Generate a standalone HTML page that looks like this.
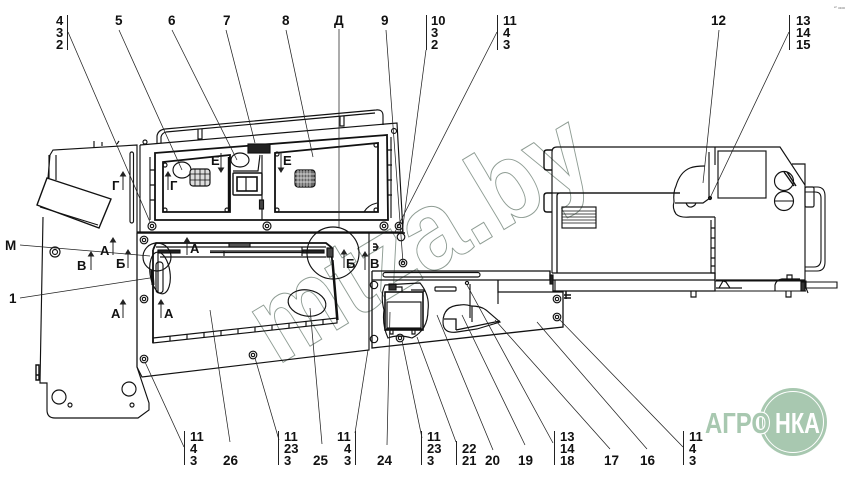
<!DOCTYPE html>
<html><head><meta charset="utf-8"><style>
html,body{margin:0;padding:0;background:#fff;width:848px;height:477px;overflow:hidden}
svg{display:block}
text{font-family:"Liberation Sans","DejaVu Sans",sans-serif;font-weight:bold;font-size:13px;fill:#111}
.n{font-size:13.5px}
.s{stroke:#111;fill:none;stroke-width:1.15}
.t{stroke:#111;fill:none;stroke-width:1.8}
.l{stroke:#222;fill:none;stroke-width:.75}
.w{font-weight:bold;fill:none;stroke:#8f9d94;stroke-width:1;font-size:112px}
</style></head><body>
<svg width="848" height="477" viewBox="0 0 848 477" xmlns="http://www.w3.org/2000/svg">
<rect width="848" height="477" fill="#fff"/>

<!-- watermark -->
<text class="w" x="277" y="366" textLength="376" lengthAdjust="spacingAndGlyphs" transform="rotate(-31 277 366)">mtza.by</text>

<!-- left machine part -->
<g class="s">
<path d="M48 178L50 155L53 150L137 145V233M43 217L40 383H47V410Q47 418 55 418H138L149 410V403L137 367V233"/>
<path d="M47 178L111 199L99 228L37 205Z" stroke-width="1.4"/>
<path d="M40 207L98 225"/>
<path d="M49 155V178M56 155V180"/>
<rect x="130" y="152" width="3.5" height="71" rx="1.7"/>
<circle cx="55" cy="252" r="5"/><circle cx="55" cy="252" r="2.5"/>
<circle cx="59" cy="397" r="7"/><circle cx="70" cy="405" r="2"/><circle cx="129" cy="389" r="7"/><circle cx="132" cy="405" r="2"/>
<path d="M94 148V141M102 146V142M117 144L119 141"/>
<path d="M36 365h3v10h-3zM36 375h3v5h-3z" stroke-width="1.4"/>
</g>

<!-- centre upper panel -->
<g class="s">
<path d="M140 145L397 123L403 232H137"/><path d="M140 145V232"/>
<path d="M157 143V136Q158 130 165 129L376 110Q383 109 383 116V125M161 143V137Q162 133 166 132L375 113"/>
<path d="M198 129V139H202V129M340 116V126H344V116"/>
<path class="t" d="M155 153L387 135L388 220H155Z"/>
<path class="t" d="M163 162L230 155V212H163Z" stroke-width="1.3"/>
<path class="t" d="M275 153L378 143V212H275Z" stroke-width="1.3"/>
<path d="M150 157V220M391 137V218M150 170h5M150 185h5M150 200h5M387 150h5M387 165h5M387 180h5M387 195h5"/>
<path d="M229 157V212" stroke-width="2.4"/>
<ellipse cx="182" cy="170" rx="9" ry="8"/>
<ellipse cx="240" cy="160" rx="9" ry="7"/>
<rect x="190" y="169" width="20" height="17" rx="3" fill="#ddd"/>
<path d="M195 169V186M200 169V186M205 169V186M190 174H210M190 180H210" stroke-width=".8"/>
<rect x="295" y="170" width="20" height="17" rx="3" fill="#666"/>
<path d="M298 170V187M301 170V187M304 170V187M307 170V187M310 170V187M295 174H315M295 178H315M295 182H315" stroke="#eee" stroke-width=".7"/>
<rect x="233" y="173" width="29" height="22" rx="1" stroke-width="1.4"/><rect x="237" y="177" width="20" height="14" stroke-width="1.6"/>
<path d="M246 177V191"/>
<rect x="248" y="144" width="22" height="9" fill="#222"/><path d="M262 155V220M233 171H258L260 155"/>
<rect x="259.5" y="200" width="4" height="9" fill="#444"/>
<circle cx="165" cy="165" r="2"/><circle cx="165" cy="210" r="2"/><circle cx="227" cy="210" r="2"/>
<circle cx="277" cy="154" r="2"/><circle cx="277" cy="210" r="2"/><circle cx="376" cy="145" r="2"/><circle cx="376" cy="210" r="2"/>
<path d="M364 212Q368 205 377 203"/>
<circle cx="152" cy="226" r="4"/><circle cx="152" cy="226" r="1.7"/>
<circle cx="267" cy="226" r="4"/><circle cx="267" cy="226" r="1.7"/>
<circle cx="384" cy="226" r="4"/><circle cx="384" cy="226" r="1.7"/>
<circle cx="399" cy="226" r="3.8"/><circle cx="399" cy="226" r="1.7"/>
<circle cx="394" cy="131" r="2.5"/><circle cx="145" cy="142" r="2"/>
</g>

<!-- centre lower panel -->
<g class="s">
<path d="M137 233V367L142 377L369 350V233"/><path d="M137 233H405" stroke-width="1.4"/>
<path class="t" d="M153 250L156 243H326L331 247L337 320M153 250V343" stroke-width="1.5"/>
<path d="M153 338L337 318L337 323L153 343Z"/>
<path d="M170 336V341M187 334V339M204 333V338M221 331V336M238 329V334M255 327V332M272 325V330M289 323V328M306 321V326M323 319V324"/>
<path d="M156 247H326M160 257H326"/>
<path d="M210 251H302M210 252.500H302"/>
<rect x="229" y="243" width="21" height="4" fill="#555"/>
<rect x="158" y="250" width="22" height="3" fill="#222"/><rect x="303" y="250" width="21" height="3" fill="#222"/>
<path d="M224 251V256M302 247V256M158 250V292"/>
<rect x="156" y="262" width="7" height="31" rx="3"/><path d="M152 270L153 285" stroke-width="3"/>
<circle cx="157" cy="257" r="14"/>
<ellipse cx="160" cy="273" rx="10" ry="21" transform="rotate(-8 160 273)"/>
<circle cx="333" cy="253" r="26"/>
<path d="M327 248h6v9h-6z" fill="#444"/>
<ellipse cx="307" cy="303" rx="19" ry="13" transform="rotate(10 307 303)"/>
<circle cx="144" cy="240" r="3.800"/><circle cx="144" cy="240" r="1.700"/>
<circle cx="144" cy="299" r="3.800"/><circle cx="144" cy="299" r="1.700"/>
<circle cx="144" cy="359" r="3.800"/><circle cx="144" cy="359" r="1.700"/>
<circle cx="253" cy="355" r="3.800"/><circle cx="253" cy="355" r="1.700"/>
<path d="M333 260L338 320" stroke-width="1.3"/>
</g>

<!-- right lower part -->
<g class="s">
<path d="M372 271H550V280H372M372 271V348L563 327V292H498V280" stroke-width="1.300"/>
<rect x="383" y="272.500" width="97" height="4.500" rx="2.200"/>
<path d="M498 292V304M550 271V280"/>
<path d="M555 280V291"/>
<circle cx="374" cy="285" r="3.700"/><circle cx="374" cy="339" r="3.700"/>
<rect x="385" y="292" width="38" height="38" stroke-width="1.600"/>
<rect x="387" y="302" width="34" height="26"/>
<path d="M386 329H423M391 287H402V292M411 290H424V292"/>
<rect x="389" y="284" width="7" height="6" fill="#333"/>
<path d="M385 285Q380 295 384 310Q382 325 388 338Q398 334 412 338Q428 330 428 310Q430 295 420 283Q400 284 385 285Z"/>
<circle cx="400" cy="338" r="3.800"/><circle cx="400" cy="338" r="1.700"/>
<path d="M390 329v5h3v-5M412 329v5h3v-5"/>
<rect x="435" y="287" width="21" height="4" rx="1"/>
<path d="M470 284V318M472 306V322M471 306Q481 306 486 310L500 322L477 329L457 332Q443 334 443 322Q443 306 460 305Q466 304 471 306"/>
<path d="M444 319H456V330M456 330L500 321" stroke-width="1.300"/>
<circle cx="467" cy="283" r="1.600"/>
<circle cx="557" cy="299" r="3.800"/><circle cx="557" cy="299" r="1.700"/>
<circle cx="557" cy="317" r="3.800"/><circle cx="557" cy="317" r="1.700"/>
<circle cx="403" cy="263" r="3.800"/><circle cx="403" cy="263" r="1.700"/>
<circle cx="401" cy="237" r="3.800"/>
<path d="M566 291V299M564 295H571M564 298H571" stroke-width="1.500"/>
<path d="M373 244h3l2 3-2 3h-3M373 247h4" stroke-width="1.400"/>
</g>

<!-- engine / cab -->
<g class="s">
<path d="M552 273V152Q552 147 557 147H780L805 185V280H716"/>
<path d="M557 273V196Q557 193 560 193H680" stroke-width="1.300"/>
<path d="M552 193H680" stroke-width="1.300"/>
<path d="M552 273H715V281M552 280H715V291H553V280" stroke-width="1.300"/>
<path d="M715 147V165M715 217V280"/>
<path d="M711 220V273H715M711 228h4M711 238h4M711 248h4M711 258h4M711 266h4"/>
<path d="M705 166Q695 166 690 168Q680 172 676 186Q673 192 674 202Q672 208 676 214Q680 218 690 217L715 217"/>
<path d="M675 203H703L710 198M686 203Q689 210 695 205L696 203M709 152V198"/>
<circle cx="710" cy="198" r="1.500" fill="#222"/>
<rect x="718" y="151" width="48" height="47"/>
<circle cx="784" cy="181" r="9.500"/><path d="M784 172L794 186M787 172L796 186" stroke-width="1.400"/>
<circle cx="784" cy="201" r="9.500"/><path d="M774.500 201H793.500" stroke-width="1.100"/>
<path d="M792 164H805V185"/>
<path d="M805 187H817Q825 187 825 196V262Q825 271 817 271H805M805 192H815Q821 192 821 198V259Q821 267 814 267H805" stroke-width="1.100"/>
<rect x="805" y="187" width="9" height="20" rx="1.500"/>
<path d="M552 150H547Q544 150 544 153V167Q544 170 547 170H552M552 193H547Q544 193 544 196V209Q544 212 547 212H552" stroke-width="1.400"/>
<rect x="562" y="207" width="34" height="21"/>
<path d="M562 211H596M562 214H596M562 217H596M562 220H596M562 223H596" stroke-width=".8"/>
<path d="M715 281H806V288H837V282H806M715 291H806M806 288L808 293" stroke-width="1.100"/>
<path d="M716 288H730L726 282L723 281L719 288M730 288H742"/>
<path d="M775 291V285Q776 280 782 279H800"/>
<path d="M691 291V297H696V291M786 291V297H791V291M787 279V275H792V279"/>
<rect x="801" y="282" width="4" height="9" fill="#333"/>
<rect x="550" y="275" width="3" height="9" fill="#222"/>
</g>

<!-- leaders -->
<g class="l">
<path d="M68 32L150 222M119 30L182 170M172 30L237 160M226 30L255 143M286 30L313 157M339 29V228"/>
<path d="M386 30L403 263M426 50L402 233M497 32L395 232M719 30L703 183M789 32L710 198"/>
<path d="M20 245L150 256M20 298L150 278"/>
<path d="M184 447L145 362M279 440L255 358M230 442L210 310M322 444L310 308M355 433L368 350"/>
<path d="M387 445L390 312M422 438L402 341M456 442L417 337M493 450L437 315M525 445L462 315"/>
<path d="M553 443L467 285M610 449L495 320M647 449L537 322M683 447L559 319"/>
</g>

<!-- vertical bars -->
<g stroke="#222" stroke-width="1" fill="none">
<path d="M67.500 15V50M426.500 15V50M497.500 15V50M789.500 15V50M184.500 431V465M278.500 431V465M355.500 431V465M421.500 431V465M456.500 441V465M554.500 431V465M683.500 431V465"/>
</g>

<!-- labels top -->
<text x="56" y="25">4</text><text x="56" y="37">3</text><text x="56" y="49">2</text>
<text class="n" x="115" y="25">5</text><text class="n" x="168" y="25">6</text><text class="n" x="223" y="25">7</text><text class="n" x="282" y="25">8</text><text class="n" x="334" y="25">Д</text><text class="n" x="381" y="25">9</text>
<text x="431" y="25">10</text><text x="431" y="37">3</text><text x="431" y="49">2</text>
<text x="503" y="25">11</text><text x="503" y="37">4</text><text x="503" y="49">3</text>
<text class="n" x="711" y="25">12</text>
<text x="796" y="25">13</text><text x="796" y="37">14</text><text x="796" y="49">15</text>

<!-- labels side -->
<text class="n" x="5" y="250">М</text><text class="n" x="9" y="303">1</text>

<!-- labels bottom -->
<text x="190" y="441">11</text><text x="190" y="453">4</text><text x="190" y="465">3</text>
<text x="284" y="441">11</text><text x="284" y="453">23</text><text x="284" y="465">3</text>
<text x="337" y="441">11</text><text x="344" y="453">4</text><text x="344" y="465">3</text>
<text x="427" y="441">11</text><text x="427" y="453">23</text><text x="427" y="465">3</text>
<text x="462" y="453">22</text><text x="462" y="465">21</text>
<text x="560" y="441">13</text><text x="560" y="453">14</text><text x="560" y="465">18</text>
<text x="689" y="441">11</text><text x="689" y="453">4</text><text x="689" y="465">3</text>
<text class="n" x="223" y="465">26</text><text class="n" x="313" y="465">25</text><text class="n" x="377" y="465">24</text>
<text class="n" x="485" y="465">20</text><text class="n" x="518" y="465">19</text><text class="n" x="604" y="465">17</text><text class="n" x="640" y="465">16</text>

<!-- section marks -->
<g stroke="#222" stroke-width="1" fill="#222">
<path d="M123 190V172M120.500 176H125.500L123 172Z"/>
<path d="M168 190V172M165.500 176H170.500L168 172Z"/>
<path d="M221 153V172M218.500 168H223.500L221 172Z"/>
<path d="M281 153V172M278.500 168H283.500L281 172Z"/>
<path d="M113 255V238M110.500 242H115.500L113 238Z"/>
<path d="M91 270V252M88.500 256H93.500L91 252Z"/>
<path d="M128 268V250M125.500 254H130.500L128 250Z"/>
<path d="M187 255V238M184.500 242H189.500L187 238Z"/>
<path d="M344 268V250M341.500 254H346.500L344 250Z"/>
<path d="M365 270V252M362.500 256H367.500L365 252Z"/>
<path d="M123 318V300M120.500 304H125.500L123 300Z"/>
<path d="M161 318V300M158.500 304H163.500L161 300Z"/>
</g>
<text x="112" y="190">Г</text><text x="170" y="190">Г</text><text x="211" y="165">Е</text><text x="283" y="165">Е</text>
<text x="100" y="255">А</text><text x="77" y="270">В</text><text x="116" y="268">Б</text><text x="190" y="253">А</text>
<text x="346" y="268">Б</text><text x="370" y="268">В</text><text x="111" y="318">А</text><text x="164" y="318">А</text>

<!-- tiny top right -->
<text x="834" y="9" style="font-size:4px;font-weight:normal;fill:#666">ᵃ° ooo</text>

<!-- logo -->
<circle cx="793" cy="422" r="34" fill="#a8c8b0"/>
<circle cx="793" cy="422" r="30.500" fill="none" stroke="#fff" stroke-width="1"/>
<text x="705" y="433" style="font-size:29px;fill:#a8c8b0;stroke:#fff;stroke-width:2.500px;paint-order:stroke" textLength="65" lengthAdjust="spacingAndGlyphs">АГРО</text>
<text x="775" y="433" style="font-size:29px;fill:#fff" textLength="45" lengthAdjust="spacingAndGlyphs">НКА</text>
</svg>
</body></html>
